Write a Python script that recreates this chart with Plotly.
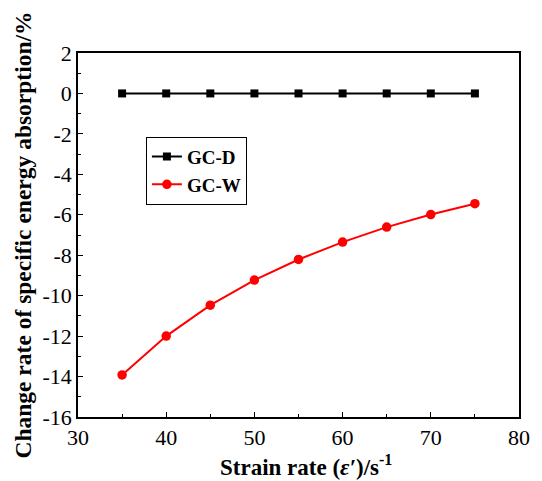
import plotly.graph_objects as go

strain_rate = [35, 40, 45, 50, 55, 60, 65, 70, 75]
gc_d = [0, 0, 0, 0, 0, 0, 0, 0, 0]
gc_w = [-13.92, -12.0, -10.47, -9.23, -8.21, -7.35, -6.61, -5.99, -5.45]

x_tickvals = [30, 40, 50, 60, 70, 80]
x_ticktext = ["30", "40", "50", "60", "70", "80"]
y_tickvals = [2, 0, -2, -4, -6, -8, -10, -12, -14, -16]
y_ticktext = ["2", "0", "-2", "-4", "-6", "-8", "-10", "-12", "-14", "-16"]

font_family = "Liberation Serif"

fig = go.Figure()
fig.add_trace(go.Scatter(
    x=strain_rate, y=gc_d, name="<b>GC-D</b>", mode="lines+markers",
    line=dict(color="black", width=2),
    marker=dict(symbol="square", size=8, color="black"),
))
fig.add_trace(go.Scatter(
    x=strain_rate, y=gc_w, name="<b>GC-W</b>", mode="lines+markers",
    line=dict(color="red", width=2),
    marker=dict(symbol="circle", size=9.5, color="red"),
))

tick_font = dict(family=font_family, size=22, color="black")

fig.update_xaxes(
    range=[30, 80], tickmode="array", tickvals=x_tickvals, ticktext=x_ticktext,
    showline=True, linecolor="black", linewidth=1.5, mirror=True,
    ticks="inside", ticklen=5, tickwidth=1.2, tickcolor="black",
    showgrid=False, zeroline=False, tickfont=tick_font,
    minor=dict(ticks="inside", ticklen=3, tickwidth=1.2, tickcolor="black",
               tickmode="array", tickvals=[35, 45, 55, 65, 75]),
)
fig.update_yaxes(
    range=[-16, 2], tickmode="array", tickvals=y_tickvals, ticktext=y_ticktext,
    showline=True, linecolor="black", linewidth=1.5, mirror=True,
    ticks="inside", ticklen=5, tickwidth=1.2, tickcolor="black",
    showgrid=False, zeroline=False, tickfont=tick_font,
    minor=dict(ticks="inside", ticklen=3, tickwidth=1.2, tickcolor="black",
               tickmode="array", tickvals=[1, -1, -3, -5, -7, -9, -11, -13, -15]),
    title=dict(text="<b>Change rate of specific energy absorption/%</b>",
               font=dict(family=font_family, size=23.5, color="black"), standoff=4),
)

fig.add_annotation(
    text="<b>Strain rate (<i>ε′</i>)/s<sup>-1</sup></b>",
    xref="paper", yref="paper", x=0.517, y=-0.133,
    xanchor="center", yanchor="middle", showarrow=False,
    font=dict(family=font_family, size=23, color="black"),
)

fig.update_layout(
    width=542, height=481,
    margin=dict(l=78, r=13, t=53, b=64),
    paper_bgcolor="white", plot_bgcolor="white",
    font=dict(family=font_family, size=22, color="black"),
    legend=dict(
        x=0.154, y=0.77, xanchor="left", yanchor="top",
        bordercolor="black", borderwidth=1, bgcolor="white",
        font=dict(family=font_family, size=19, color="black"),
        tracegroupgap=0, itemwidth=30,
    ),
)

fig.write_html("out.html")
